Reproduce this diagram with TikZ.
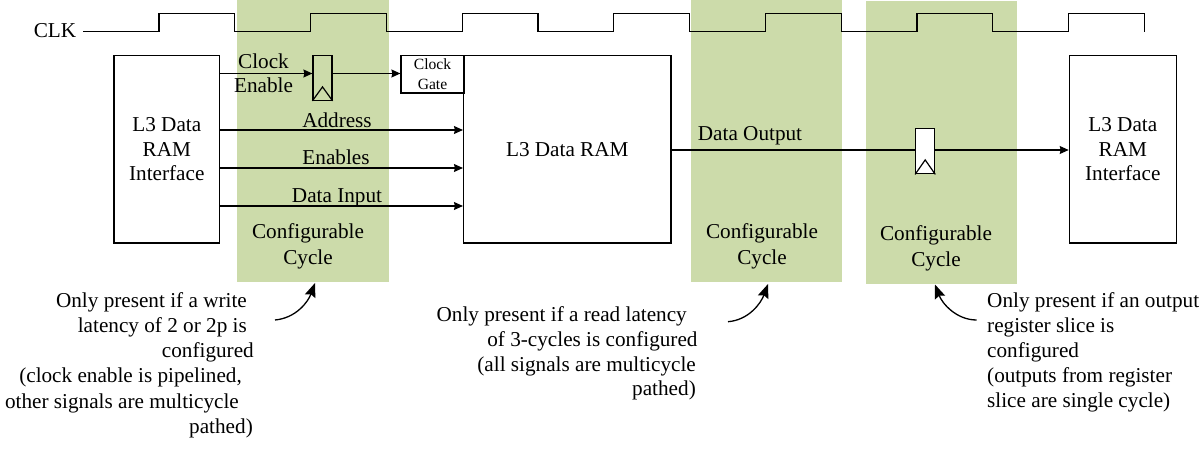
\documentclass[tikz,border=0pt]{standalone}
\usepackage{fontspec}
\setmainfont{Liberation Serif}
\usetikzlibrary{arrows.meta}
\definecolor{bandgreen}{RGB}{204,219,170}
\begin{document}
\begin{tikzpicture}[x=1pt,y=-1pt,
  every node/.style={font=\fontsize{21.2}{24.5}\selectfont, inner sep=0pt},
  blk/.style={draw=black, line width=1.2pt, fill=white, inner sep=0pt, align=center},
  ffbox/.style={draw=black, line width=1.2pt, minimum width=19pt, minimum height=45pt},
  band/.style={fill=bandgreen, draw=none},
  wire/.style={line width=1.2pt},
  sig/.style={line width=1.2pt, -{Stealth[length=9pt,width=8pt,inset=1pt]}},
  note/.style={line width=1.3pt, -{Stealth[length=14pt,width=11pt,inset=2pt]}},
  txt/.style={anchor=base},
  rtxt/.style={anchor=base east},
  ltxt/.style={anchor=base west}]
\useasboundingbox (0,0) rectangle (1203,451);

% configurable-cycle bands
\fill[band] (237,0) rectangle (389,281.5);
\fill[band] (691,0) rectangle (842,281.5);
\fill[band] (866,1) rectangle (1017,283.5);

% clock
\node (clk) at (55,31) {CLK};
\draw[wire] (83,31.7) \foreach \i in {0,...,6} {
  -- ({159+151.6*\i},31.7) -- ({159+151.6*\i},13.3)
  -- ({234.8+151.6*\i},13.3) -- ({234.8+151.6*\i},31.7) };

% row levels
\coordinate (rowCE) at (0,73.5);
\coordinate (rowA) at (0,130);
\coordinate (rowE) at (0,168);
\coordinate (rowI) at (0,206);
\coordinate (rowD) at (0,150);

% blocks
\node[blk, minimum width=105.5pt, minimum height=187.5pt] (lbox) at (166.8,149.3) {L3 Data\\RAM\\Interface};
\node[blk, minimum width=207.5pt, minimum height=187.5pt] (mid) at (567.3,149.3) {L3 Data RAM};
\node[blk, minimum width=107pt, minimum height=187.5pt] (rbox) at (1122.8,149.3) {L3 Data\\RAM\\Interface};
\node[blk, minimum width=63pt, minimum height=37.5pt, font=\fontsize{15.6}{19.3}\selectfont] (cg) at (432.5,74.2) {Clock\\Gate};

% clock enable flip-flop
\node[ffbox] (ff1) at (322.5,77.8) {};
\draw[wire] (ff1.south west) -- ([yshift=14pt]ff1.south) -- (ff1.south east);

% signals
\draw[sig] (lbox.east |- rowCE) -- (ff1.west |- rowCE);
\draw[sig] (ff1.east |- rowCE) -- (cg.west |- rowCE);
\draw[sig] (lbox.east |- rowA) -- (mid.west |- rowA);
\draw[sig] (lbox.east |- rowE) -- (mid.west |- rowE);
\draw[sig] (lbox.east |- rowI) -- (mid.west |- rowI);
\draw[sig] (mid.east |- rowD) -- (rbox.west |- rowD);

% output register slice
\node[ffbox, fill=white] (reg) at (925.2,151.3) {};
\draw[wire] (reg.south west) -- ([yshift=14.5pt]reg.south) -- (reg.south east);

% signal labels
\node[align=center] (celbl) at (263.5,73.2) {Clock\\Enable};
\node[txt] (addr) at (337,127.3) {Address};
\node[txt] (enab) at (336,164) {Enables};
\node[txt] (din) at (337,202.3) {Data Input};
\node[txt] (dout) at (750,140) {Data Output};

% band labels
\node[txt] (cc1a) at (308,238.3) {Configurable};
\node[txt] (cc1b) at (308,264) {Cycle};
\node[txt] (cc2a) at (762,238.3) {Configurable};
\node[txt] (cc2b) at (762,264) {Cycle};
\node[txt] (cc3a) at (936,240.7) {Configurable};
\node[txt] (cc3b) at (936,266) {Cycle};

% annotation 1
\node[rtxt] (n1a) at (247,307.3) {Only present if a write};
\node[rtxt] (n1b) at (247,332.5) {latency of 2 or 2p is};
\node[rtxt] (n1c) at (254,357.7) {configured};
\node[rtxt] (n1d) at (242,382.9) {(clock enable is pipelined,};
\node[rtxt] (n1e) at (239,408.1) {other signals are multicycle};
\node[rtxt] (n1f) at (253,433.3) {pathed)};
\coordinate (a1s) at (275,320);
\coordinate (a1e) at (315,283);
\draw[note] (a1s) .. controls (296,318) and (308,302) .. (a1e);

% annotation 2
\node[rtxt] (n2a) at (687,321.7) {Only present if a read latency};
\node[rtxt] (n2b) at (697.7,346) {of 3-cycles is configured};
\node[rtxt] (n2c) at (696,371) {(all signals are multicycle};
\node[rtxt] (n2d) at (696,395.5) {pathed)};
\coordinate (a2s) at (728,321.7);
\coordinate (a2e) at (768,284);
\draw[note] (a2s) .. controls (749,320) and (761,303) .. (a2e);

% annotation 3
\node[ltxt] (n3a) at (987,307) {Only present if an output};
\node[ltxt] (n3b) at (987,332) {register slice is};
\node[ltxt] (n3c) at (987,357) {configured};
\node[ltxt] (n3d) at (987,382) {(outputs from register};
\node[ltxt] (n3e) at (987,407) {slice are single cycle)};
\coordinate (a3s) at (976.7,320);
\coordinate (a3e) at (935,284.5);
\draw[note] (a3s) .. controls (956,320) and (942,303) .. (a3e);
\end{tikzpicture}
\end{document}
